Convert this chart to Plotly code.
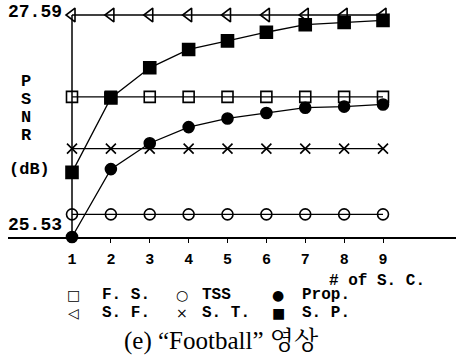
import plotly.graph_objects as go

# Number of search candidates (x axis)
n_sc = [1, 2, 3, 4, 5, 6, 7, 8, 9]
x_ticks = ["1", "2", "3", "4", "5", "6", "7", "8", "9"]

# PSNR (dB) per method
psnr_fs = [26.83, 26.83, 26.83, 26.83, 26.83, 26.83, 26.83, 26.83, 26.83]
psnr_tss = [25.74, 25.74, 25.74, 25.74, 25.74, 25.74, 25.74, 25.74, 25.74]
psnr_prop = [25.53, 26.16, 26.40, 26.55, 26.63, 26.68, 26.73, 26.74, 26.76]
psnr_sf = [27.59, 27.59, 27.59, 27.59, 27.59, 27.59, 27.59, 27.59, 27.59]
psnr_st = [26.35, 26.35, 26.35, 26.35, 26.35, 26.35, 26.35, 26.35, 26.35]
psnr_sp = [26.13, 26.82, 27.10, 27.27, 27.35, 27.43, 27.50, 27.52, 27.54]

y_min, y_max = 25.53, 27.59

W, H = 456, 357
ML, MR, MT, MB = 8, 0, 10, 120
PW, PH = W - ML - MR, H - MT - MB

# data -> pixel scale of the plotting area
x_px_per_unit = 38.875
y_px_per_unit = 222 / (y_max - y_min)
x_lo = 1 - (72 - ML) / x_px_per_unit
x_hi = x_lo + PW / x_px_per_unit
y_hi = y_min + PH / y_px_per_unit


def px(xp, yp):
    return (xp - ML) / PW, (H - MB - yp) / PH


MONO = "Liberation Mono, DejaVu Sans Mono, monospace"
SYM = "DejaVu Sans, sans-serif"
SERIF = "Liberation Serif, Noto Serif CJK KR, Noto Sans CJK KR, serif"

series = [
    ("F. S.", psnr_fs, dict(symbol="square-open", size=11)),
    ("TSS", psnr_tss, dict(symbol="circle-open", size=11)),
    ("Prop.", psnr_prop, dict(symbol="circle", size=11)),
    ("S. F.", psnr_sf, dict(symbol="triangle-left-open", size=12)),
    ("S. T.", psnr_st, dict(symbol="x-thin-open", size=10)),
    ("S. P.", psnr_sp, dict(symbol="square", size=12)),
]

fig = go.Figure()
for name, vals, mk in series:
    mk.update(color="black", line=dict(color="black", width=1.6))
    fig.add_trace(go.Scatter(
        x=n_sc, y=vals, name=name, mode="lines+markers",
        line=dict(color="black", width=1.3), marker=mk,
        cliponaxis=False, showlegend=False,
    ))

# vertical value axis drawn at x = 1
fig.add_shape(type="line", xref="x", yref="y", x0=1, x1=1, y0=y_min, y1=y_max,
              line=dict(color="black", width=1.5))

ann = []


def text(s, xp, yp, font, size, xanchor="center", bold=True):
    xa, ya = px(xp, yp)
    ann.append(dict(text=s, x=xa, y=ya, xref="paper", yref="paper",
                    xanchor=xanchor, yanchor="middle", showarrow=False,
                    font=dict(family=font, size=size, color="black",
                              weight="bold" if bold else "normal")))


# value labels on the axis
text("27.59", 35, 12, MONO, 18)
text("25.53", 35, 225, MONO, 18)
for ch, yp in zip("PSNR", [81, 99, 117, 135]):
    text(ch, 26, yp, MONO, 17)
text("(dB)", 29, 170, MONO, 17)
text("# of S. C.", 377, 281, MONO, 16)

# legend block
legend_rows = [
    [("□", "F. S."), ("○", "TSS"), ("●", "Prop.")],
    [("◁", "S. F."), ("×", "S. T."), ("■", "S. P.")],
]
sym_x = [73, 182, 278]
lab_x = [100, 200, 300]
for row, yp in zip(legend_rows, [295, 313]):
    for (sym, lab), sx, lx in zip(row, sym_x, lab_x):
        text(sym, sx, yp, SYM, 14, bold=False)
        text(lab, lx, yp, MONO, 16, xanchor="left")

text("(e) “Football” 영상", 221, 341, SERIF, 25, bold=False)

fig.update_layout(
    width=W, height=H,
    margin=dict(l=ML, r=MR, t=MT, b=MB, pad=0),
    paper_bgcolor="white", plot_bgcolor="white",
    showlegend=False,
    annotations=ann,
    xaxis=dict(range=[x_lo, x_hi], showgrid=False, zeroline=False,
               showline=True, linecolor="black", linewidth=1.5,
               ticks="outside", ticklen=4, tickcolor="black", tickwidth=1.2,
               tickvals=n_sc, ticktext=x_ticks, ticklabelstandoff=3,
               tickfont=dict(family=MONO, size=15, color="black", weight="bold")),
    yaxis=dict(range=[y_min, y_hi], visible=False),
)

fig.write_html("out.html")
